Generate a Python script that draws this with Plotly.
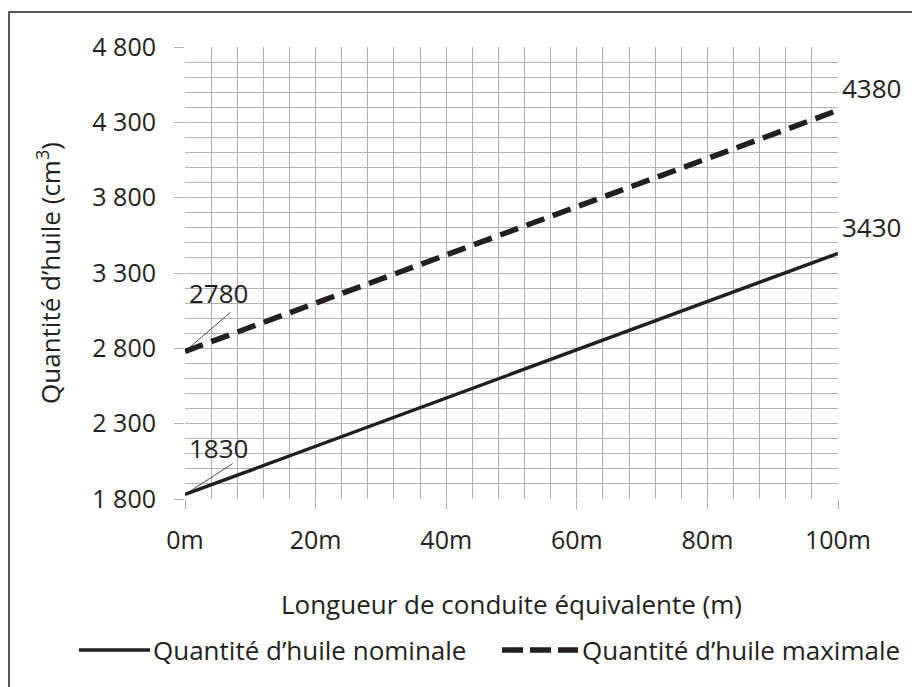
import plotly.graph_objects as go

# Data
length_m = [0, 100]
nominal = [1830, 3430]
maximal = [2780, 4380]
x_ticks = [0, 20, 40, 60, 80, 100]
x_ticktext = ["0m", "20m", "40m", "60m", "80m", "100m"]
y_ticks = [1800, 2300, 2800, 3300, 3800, 4300, 4800]
y_ticktext = ["1 800", "2 300", "2 800", "3 300", "3 800", "4 300", "4 800"]

FONT = "Open Sans"
TXT = "#231f20"
GRID = "#b0b0b0"
TICK_SIZE = 25
TEXT_SIZE = 26

fig = go.Figure()
fig.add_trace(go.Scatter(x=length_m, y=nominal, mode="lines",
                         line=dict(color=TXT, width=3.5), name="Quantité d’huile nominale",
                         showlegend=False, cliponaxis=False))
fig.add_trace(go.Scatter(x=length_m, y=maximal, mode="lines",
                         line=dict(color=TXT, width=5.5, dash="19px,9px"),
                         name="Quantité d’huile maximale", showlegend=False, cliponaxis=False))

# page has an 8px body margin; compensate so the plot area sits at x 185-838, y 47-499
fig.update_layout(
    width=920, height=687,
    margin=dict(l=177, r=90, t=39, b=196),
    paper_bgcolor="white", plot_bgcolor="white",
    font=dict(family=FONT, color=TXT, size=TEXT_SIZE),
    showlegend=False,
)
fig.update_xaxes(
    range=[0, 100], tickvals=x_ticks, ticktext=x_ticktext,
    showgrid=True, gridcolor=GRID, gridwidth=1,
    minor=dict(dtick=4, tick0=0, showgrid=True, gridcolor=GRID, gridwidth=1),
    ticks="outside", ticklen=9, tickcolor=GRID, tickwidth=1,
    ticklabelstandoff=10,
    showline=False, zeroline=False,
    tickfont=dict(size=TICK_SIZE, color=TXT),
    title=dict(text="Longueur de conduite équivalente (m)", font=dict(size=TEXT_SIZE, color=TXT), standoff=40),
)
fig.update_yaxes(
    range=[1800, 4800], tickvals=y_ticks, ticktext=y_ticktext,
    showgrid=True, gridcolor=GRID, gridwidth=1,
    minor=dict(dtick=100, tick0=1800, showgrid=True, gridcolor=GRID, gridwidth=1),
    ticks="outside", ticklen=10, tickcolor=GRID, tickwidth=1,
    ticklabelstandoff=13,
    showline=False, zeroline=False,
    tickfont=dict(size=TICK_SIZE, color=TXT),
    title=dict(text="Quantité d’huile (cm<sup>3</sup>)", font=dict(size=TEXT_SIZE, color=TXT), standoff=24),
)

# Value labels
ann_font = dict(size=TEXT_SIZE, color=TXT, family=FONT)
fig.add_annotation(x=length_m[0], y=maximal[0], text=str(maximal[0]), showarrow=False,
                   xanchor="left", yanchor="middle", xshift=2, yshift=58, font=ann_font)
fig.add_annotation(x=length_m[0], y=nominal[0], text=str(nominal[0]), showarrow=False,
                   xanchor="left", yanchor="middle", xshift=2, yshift=46, font=ann_font)
fig.add_annotation(x=length_m[1], y=maximal[1], text=str(maximal[1]), showarrow=False,
                   xanchor="left", yanchor="middle", xshift=2, yshift=22, font=ann_font)
fig.add_annotation(x=length_m[1], y=nominal[1], text=str(nominal[1]), showarrow=False,
                   xanchor="left", yanchor="middle", xshift=2, yshift=26, font=ann_font)

# Leader lines for the start labels
fig.add_shape(type="line", xref="x", yref="y", x0=length_m[0], y0=maximal[0],
              x1=7.0, y1=maximal[0] + 260, line=dict(color=TXT, width=0.8))
fig.add_shape(type="line", xref="x", yref="y", x0=length_m[0], y0=nominal[0],
              x1=7.3, y1=nominal[0] + 205, line=dict(color=TXT, width=0.8))

# Pixel -> paper helpers (page pixels)
PL, PR, PT, PB = 185, 838, 47, 499
def px(x):
    return (x - PL) / (PR - PL)
def py(y):
    return (PB - y) / (PB - PT)

# Custom legend
ly = 650
fig.add_shape(type="line", xref="paper", yref="paper", x0=px(79), x1=px(150), y0=py(ly), y1=py(ly),
              line=dict(color=TXT, width=3.5))
fig.add_annotation(xref="paper", yref="paper", x=px(151), y=py(ly), text="Quantité d’huile nominale",
                   showarrow=False, xanchor="left", yanchor="middle", font=ann_font)
fig.add_shape(type="line", xref="paper", yref="paper", x0=px(502), x1=px(578), y0=py(ly), y1=py(ly),
              line=dict(color=TXT, width=5.5, dash="21px,7px"))
fig.add_annotation(xref="paper", yref="paper", x=px(580), y=py(ly), text="Quantité d’huile maximale",
                   showarrow=False, xanchor="left", yanchor="middle", font=ann_font)

# Outer frame (only left and top edges visible)
fig.add_shape(type="rect", xref="paper", yref="paper", x0=px(9), x1=px(960), y0=py(740), y1=py(12),
              line=dict(color="#231f20", width=1.5), layer="below")

fig.write_html("out.html")
